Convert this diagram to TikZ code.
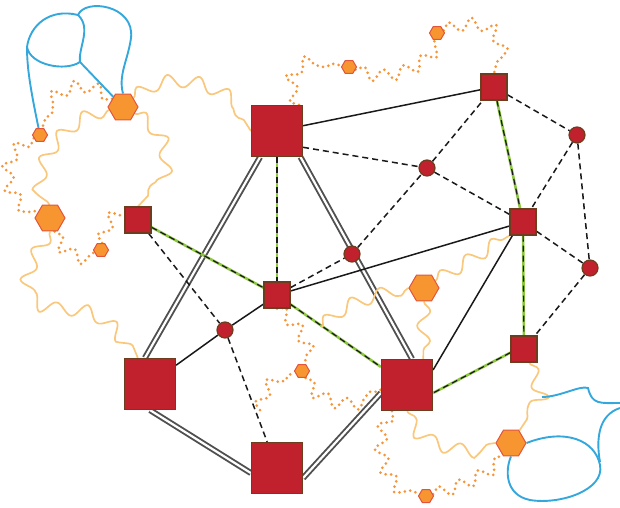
\documentclass[tikz,border=0pt]{standalone}
\usepackage{tikz}
\usetikzlibrary{shapes.geometric,decorations.pathmorphing}
\pgfdeclarelayer{background}
\pgfsetlayers{background,main}
\definecolor{nodeRed}{RGB}{193,33,44}
\definecolor{nodeBrown}{RGB}{110,60,30}
\definecolor{hexOrange}{RGB}{247,150,48}
\definecolor{hexBorder}{RGB}{226,84,60}
\definecolor{wavyOrange}{RGB}{250,200,125}
\definecolor{dotOrange}{RGB}{244,150,60}
\definecolor{loopBlue}{RGB}{52,168,220}
\definecolor{edgeGreen}{RGB}{140,198,63}
\definecolor{edgeGrey}{RGB}{80,80,80}

\begin{document}
\begin{tikzpicture}[x=1pt, y=1pt]
        \tikzstyle{bigSquare} = [rectangle, draw=nodeBrown, fill=nodeRed, line width=1.2pt, inner sep=0pt, minimum size=51pt]
        \tikzstyle{smallSquare} = [bigSquare, minimum size=26pt]
        \tikzstyle{dotStyle} = [circle, draw=nodeBrown, fill=nodeRed, line width=1.2pt, inner sep=0pt, minimum size=16pt]
        \tikzstyle{bigHex} = [regular polygon, regular polygon sides=6, draw=hexBorder, fill=hexOrange, line width=1pt, inner sep=0pt, minimum size=30pt]
        \tikzstyle{smallHex} = [bigHex, minimum size=15pt]
        \tikzstyle{doubleEdge} = [draw=edgeGrey, line width=1.9pt, double=white, double distance=2.2pt]
        \tikzstyle{blackEdge} = [draw=black!90, line width=1.5pt]
        \tikzstyle{dashEdge} = [blackEdge, dash pattern=on 6pt off 4pt]
        \tikzstyle{greenEdge} = [draw=black!90, line width=1.2pt, dash pattern=on 6pt off 4pt, preaction={draw=edgeGreen, solid, line width=2.6pt}]
        \tikzstyle{wavyEdge} = [draw=wavyOrange, line width=1.7pt, decorate, decoration={snake, amplitude=6.5pt, segment length=30pt}]
        \tikzstyle{dotEdge} = [draw=dotOrange, line width=3pt, line cap=round, dash pattern=on 0pt off 5.5pt, decorate, decoration={snake, amplitude=6pt, segment length=22pt}]
        \tikzstyle{blueEdge} = [draw=loopBlue, line width=1.9pt]
        \useasboundingbox (0,0) rectangle (620,507);
        % squares
        \node[bigSquare] (s1) at (277,376) {};
        \node[bigSquare] (s2) at (150,123) {};
        \node[bigSquare] (s3) at (277,39) {};
        \node[bigSquare] (s4) at (407,122) {};
        \node[smallSquare] (s5) at (138,287) {};
        \node[smallSquare] (s6) at (277,212) {};
        \node[smallSquare] (s7) at (494,420) {};
        \node[smallSquare] (s8) at (523,285) {};
        \node[smallSquare] (s9) at (524,158) {};
        % circles
        \node[dotStyle] (c1) at (427,339) {};
        \node[dotStyle] (c2) at (577,372) {};
        \node[dotStyle] (c3) at (352,253) {};
        \node[dotStyle] (c4) at (590,239) {};
        \node[dotStyle] (c5) at (225,177) {};
        % hexagons
        \node[bigHex] (h1) at (123,400) {};
        \node[smallHex] (h2) at (40,372) {};
        \node[bigHex] (h3) at (50,289) {};
        \node[smallHex] (h4) at (101,257) {};
        \node[smallHex] (h5) at (349,440) {};
        \node[smallHex] (h6) at (437,474) {};
        \node[bigHex] (h7) at (424,219) {};
        \node[smallHex] (h8) at (302,136) {};
        \node[bigHex] (h9) at (511,64) {};
        \node[smallHex] (h10) at (426,11) {};
        % free ends
        \coordinate (wF) at (322,180);
        \coordinate (wd) at (260,97);
        \coordinate (wj) at (542,110);
        \coordinate (br1) at (620,104);
        \coordinate (br2) at (620,99);
        \coordinate (bl1) at (27,460);
        \coordinate (bl2) at (78,492);
        \coordinate (bl3) at (80,445);
        \begin{pgfonlayer}{background}
        \foreach \from/\to in {s1.237/s2.101, s1.-48/s4.79, s2.-90/s3.191, s3.-21/s4.197}
            \path[doubleEdge] (\from) -- (\to);
        \foreach \from/\to in {s1/s7, s6/s8, s4.30/s8.232, s2/c5, c5/s6}
            \path[blackEdge] (\from) -- (\to);
        \foreach \from/\to in {s1.-32/c1, c1/s7, c1/s8, s7/c2, c2/s8, c2/c4, s8/c4, c4/s9, s6/c3, c3/c1, s5/c5, c5/s3}
            \path[dashEdge] (\from) -- (\to);
        \foreach \from/\to in {s5/s6, s1/s6, s6/s4, s7/s8, s8/s9, s9.195/s4.-17}
            \path[greenEdge] (\from) -- (\to);
        % wavy
        \draw[wavyEdge] (h1) .. controls (165,435) and (225,420) .. (s1.west);
        \draw[wavyEdge] (h1) .. controls (175,370) and (160,320) .. (s5.north);
        \draw[wavyEdge] (h1) .. controls (75,390) and (35,345) .. (h3.north);
        \draw[wavyEdge] (h3.south) .. controls (20,230) and (25,205) .. (70,205) .. controls (110,205) and (125,180) .. (s2.115);
        \draw[wavyEdge] (wF) .. controls (345,205) and (380,205) .. (h7.west);
        \draw[wavyEdge] (h7) -- (s8.225);
        \draw[wavyEdge] (h7) -- (s4.58);
        \draw[wavyEdge] (s9) -- (wj) -- (h9);
        \draw[wavyEdge] (s4.south) .. controls (415,70) and (460,60) .. (h9.west);
        % dotted
        \draw[dotEdge] (h1) .. controls (90,425) and (55,420) .. (h2);
        \draw[dotEdge] (h2) .. controls (5,355) and (5,315) .. (h3);
        \draw[dotEdge] (h3) .. controls (60,260) and (80,250) .. (h4);
        \draw[dotEdge] (h4) .. controls (105,280) and (115,292) .. (s5);
        \draw[dotEdge] (s1.50) .. controls (285,425) and (300,450) .. (h5);
        \draw[dotEdge] (h5) .. controls (385,425) and (425,445) .. (h6);
        \draw[dotEdge] (h6) .. controls (480,490) and (505,475) .. (s7.north);
        \draw[dotEdge] (s6.south) .. controls (295,185) and (310,160) .. (h8);
        \draw[dotEdge] (wd) .. controls (262,115) and (280,130) .. (h8);
        \draw[dotEdge] (h8) .. controls (315,110) and (350,100) .. (s4.190);
        \draw[dotEdge] (s4.240) .. controls (375,70) and (385,25) .. (h10);
        \draw[dotEdge] (h10) .. controls (460,20) and (490,35) .. (h9);
        % blue
        \draw[blueEdge] (h2) .. controls (30,420) and (27,440) .. (bl1);
        \draw[blueEdge] (bl1) .. controls (30,482) and (50,499) .. (bl2) .. controls (92,479) and (78,459) .. (bl3) .. controls (65,435) and (30,442) .. (bl1);
        \draw[blueEdge] (bl2) .. controls (85,509) and (135,502) .. (131,469) .. controls (128,447) and (118,432) .. (h1.north);
        \draw[blueEdge] (bl3) -- (h1);
        \draw[blueEdge] (h9.east) .. controls (565,79) and (595,67) .. (600,42) .. controls (605,17) and (560,2) .. (530,7) .. controls (505,12) and (505,37) .. (h9.south);
        \draw[blueEdge] (wj) .. controls (560,110) and (580,122) .. (588,119) .. controls (592,102) and (600,104) .. (br1);
        \draw[blueEdge] (br2) .. controls (598,92) and (596,67) .. (600,45);
        \end{pgfonlayer}
    \end{tikzpicture}
\end{document}
